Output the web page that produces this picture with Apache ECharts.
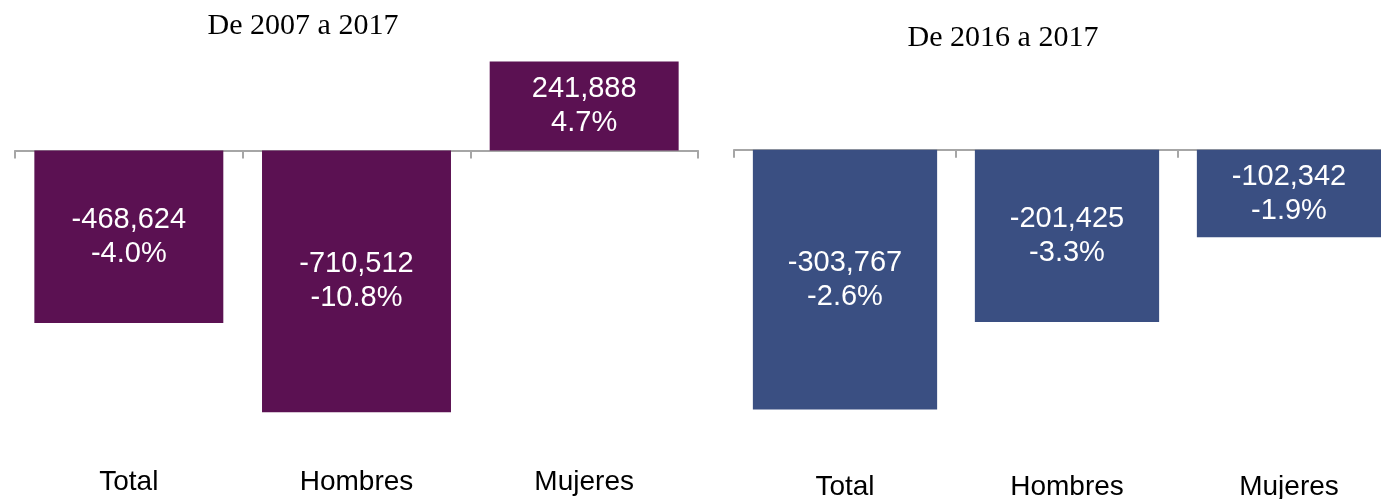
<!DOCTYPE html>
<html>
<head>
<meta charset="utf-8">
<script src="https://cdn.jsdelivr.net/npm/echarts@6/dist/echarts.min.js"></script>
<style>
  html, body { margin: 0; padding: 0; background: #fff; }
  #chart { width: 1381px; height: 499px; }
</style>
</head>
<body>
<div id="chart"></div>
<script>
var categories = ['Total', 'Hombres', 'Mujeres'];

// De 2007 a 2017
var cambio0717 = [-468624, -710512, 241888];
var pct0717 = ['-4.0%', '-10.8%', '4.7%'];

// De 2016 a 2017
var cambio1617 = [-303767, -201425, -102342];
var pct1617 = ['-2.6%', '-3.3%', '-1.9%'];

var chart = echarts.init(document.getElementById('chart'));

function fmt(v) {
    return v.toLocaleString('en-US');
}

function makeLabel(pcts) {
    return {
        show: true,
        position: 'inside',
        color: '#fff',
        fontFamily: 'Liberation Sans, Arial, sans-serif',
        fontSize: 29,
        lineHeight: 34,
        formatter: function (p) {
            return fmt(p.value) + '\n' + pcts[p.dataIndex];
        }
    };
}

// eje en cero: solo linea y marcas
function zeroAxis(gridIndex) {
    return {
        type: 'category',
        gridIndex: gridIndex,
        data: categories,
        axisLine: { onZero: true, lineStyle: { color: '#a6a6a6', width: 2 } },
        axisTick: { show: true, length: 8, lineStyle: { color: '#a6a6a6', width: 2 } },
        axisLabel: { show: false }
    };
}

// eje inferior: solo etiquetas
function labelAxis(gridIndex, margin) {
    return {
        type: 'category',
        gridIndex: gridIndex,
        position: 'bottom',
        data: categories,
        axisLine: { show: false, onZero: false },
        axisTick: { show: false },
        axisLabel: {
            margin: margin,
            color: '#000',
            fontFamily: 'Liberation Sans, Arial, sans-serif',
            fontSize: 28
        }
    };
}

var option = {
    animation: false,
    title: [
        {
            text: 'De 2007 a 2017',
            left: 298, top: 6,
            textAlign: 'center',
            textStyle: { fontFamily: 'Liberation Serif, serif', fontSize: 30, fontWeight: 'normal', color: '#000' }
        },
        {
            text: 'De 2016 a 2017',
            left: 998, top: 18,
            textAlign: 'center',
            textStyle: { fontFamily: 'Liberation Serif, serif', fontSize: 30, fontWeight: 'normal', color: '#000' }
        }
    ],
    grid: [
        { left: 15, top: 40, width: 683, height: 400, outerBoundsMode: 'none' },
        { left: 734, top: 40, width: 666, height: 400, outerBoundsMode: 'none' }
    ],
    xAxis: [zeroAxis(0), zeroAxis(1), labelAxis(0, 28), labelAxis(1, 33)],
    yAxis: [
        { type: 'value', gridIndex: 0, min: -786000, max: 300000, show: false, splitLine: { show: false } },
        { type: 'value', gridIndex: 1, min: -339500, max: 128500, show: false, splitLine: { show: false } }
    ],
    series: [
        {
            type: 'bar',
            xAxisIndex: 0, yAxisIndex: 0,
            data: cambio0717,
            barCategoryGap: '17%',
            itemStyle: { color: '#5b1152' },
            label: makeLabel(pct0717)
        },
        {
            type: 'bar',
            xAxisIndex: 1, yAxisIndex: 1,
            data: cambio1617,
            barCategoryGap: '17%',
            itemStyle: { color: '#3a4f82' },
            label: makeLabel(pct1617)
        }
    ]
};

chart.setOption(option);
</script>
</body>
</html>
